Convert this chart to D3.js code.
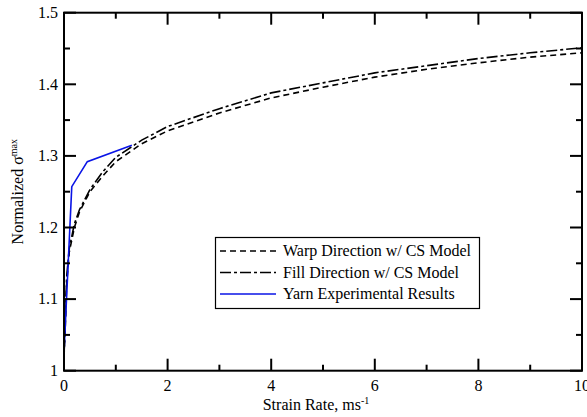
<!DOCTYPE html>
<html>
<head>
<meta charset="utf-8">
<script src="https://cdn.jsdelivr.net/npm/d3@7"></script>
<style>
  body { margin: 0; background: #fff; }
  svg { display: block; }
  svg text { font-family: "Liberation Serif", "Times New Roman", Times, serif; fill: #000; }
</style>
</head>
<body>
<div id="chart"></div>
<script>
// strain rate values (ms^-1) for the model curves
var rateModel = [0, 0.02, 0.05, 0.1, 0.2, 0.3, 0.5, 0.75, 1, 1.5, 2, 3, 4, 5, 6, 7, 8, 9, 10];
var warpModel = [1.02, 1.05, 1.12, 1.165, 1.2, 1.222, 1.25, 1.272, 1.292, 1.317, 1.335, 1.36, 1.381, 1.396, 1.41, 1.421, 1.43, 1.438, 1.444];
var fillModel = [1.02, 1.06, 1.13, 1.17, 1.205, 1.225, 1.253, 1.278, 1.298, 1.322, 1.341, 1.366, 1.388, 1.402, 1.416, 1.426, 1.436, 1.444, 1.451];
// experimental yarn results
var rateYarn = [0, 0.15, 0.45, 1.31];
var yarnExp = [1.025, 1.257, 1.292, 1.315];

var xTicks = [0, 2, 4, 6, 8, 10];
var yTicks = [1, 1.1, 1.2, 1.3, 1.4, 1.5];

var series = [
    {name: "Warp Direction w/ CS Model", x: rateModel, y: warpModel, color: "#000", dash: "6,4"},
    {name: "Fill Direction w/ CS Model", x: rateModel, y: fillModel, color: "#000", dash: "11,3,3,3"},
    {name: "Yarn Experimental Results", x: rateYarn, y: yarnExp, color: "#0a14e6", dash: null}
];

const width = 587, height = 417;
const margin = {left: 64, right: 5, top: 12.7, bottom: 46.3};

const svg = d3.select("#chart").append("svg")
    .attr("width", width)
    .attr("height", height);

const x = d3.scaleLinear().domain([0, 10]).range([margin.left, width - margin.right]);
const y = d3.scaleLinear().domain([1, 1.5]).range([height - margin.bottom, margin.top]);

// curves
const line = d3.line().x(d => x(d[0])).y(d => y(d[1]));
svg.append("g")
    .attr("fill", "none")
    .selectAll("path")
    .data(series)
    .join("path")
    .attr("stroke", d => d.color)
    .attr("stroke-width", 1.6)
    .attr("stroke-dasharray", d => d.dash)
    .attr("d", d => line(d.x.map((v, i) => [v, d.y[i]])));

// frame with inward ticks on all four sides
const frame = svg.append("g").attr("stroke", "#000");
const minorX = d3.range(0, 10.01, 1);
const minorY = d3.range(1, 1.501, 0.05);
const x0 = x(0), x1 = x(10), y0 = y(1), y1 = y(1.5);

minorX.forEach(function(v) {
    var len = (Math.round(v) % 2 == 0) ? 12 : 6;
    frame.append("line").attr("x1", x(v)).attr("x2", x(v)).attr("y1", y0).attr("y2", y0 - len).attr("stroke-width", 2);
    frame.append("line").attr("x1", x(v)).attr("x2", x(v)).attr("y1", y1).attr("y2", y1 + len).attr("stroke-width", 2);
});
minorY.forEach(function(v, i) {
    var len = (i % 2 == 0) ? 12 : 6;
    frame.append("line").attr("x1", x0).attr("x2", x0 + len).attr("y1", y(v)).attr("y2", y(v)).attr("stroke-width", 2);
    frame.append("line").attr("x1", x1).attr("x2", x1 - len).attr("y1", y(v)).attr("y2", y(v)).attr("stroke-width", 2);
});
frame.append("rect")
    .attr("x", x0).attr("y", y1)
    .attr("width", x1 - x0).attr("height", y0 - y1)
    .attr("fill", "none")
    .attr("stroke-width", 2);

// tick labels
svg.append("g")
    .selectAll("text")
    .data(xTicks)
    .join("text")
    .attr("x", d => x(d))
    .attr("y", y0 + 20)
    .attr("text-anchor", "middle")
    .style("font-size", "16px")
    .text(d => d);

svg.append("g")
    .selectAll("text")
    .data(yTicks)
    .join("text")
    .attr("x", x0 - 6)
    .attr("y", d => y(d))
    .attr("dy", "0.33em")
    .attr("text-anchor", "end")
    .style("font-size", "16px")
    .text(d => d3.format(".1~f")(d));

// axis titles
const xt = svg.append("text")
    .attr("x", 316)
    .attr("y", 410)
    .attr("text-anchor", "middle")
    .style("font-size", "16px");
xt.append("tspan").text("Strain Rate, ms");
xt.append("tspan").attr("dy", -6).style("font-size", "10px").text("-1");

const yt = svg.append("text")
    .attr("transform", `translate(23,${(y0 + y1) / 2}) rotate(-90)`)
    .attr("text-anchor", "middle")
    .style("font-size", "16px");
yt.append("tspan").text("Normalized \u03C3");
yt.append("tspan").attr("dy", -6).style("font-size", "10px").text("max");

// legend
const legend = svg.append("g");
legend.append("rect")
    .attr("x", 215.5).attr("y", 237.5)
    .attr("width", 264).attr("height", 71)
    .attr("fill", "#fff")
    .attr("stroke", "#000")
    .attr("stroke-width", 1.2);
const rows = legend.selectAll("g.row")
    .data(series)
    .join("g")
    .attr("class", "row")
    .attr("transform", (d, i) => `translate(0,${251 + i * 21.5})`);
rows.append("line")
    .attr("x1", 220).attr("x2", 276)
    .attr("stroke", d => d.color)
    .attr("stroke-width", 1.6)
    .attr("stroke-dasharray", d => d.dash);
rows.append("text")
    .attr("x", 283)
    .attr("dy", "0.33em")
    .style("font-size", "16px")
    .text(d => d.name);
</script>
</body>
</html>
